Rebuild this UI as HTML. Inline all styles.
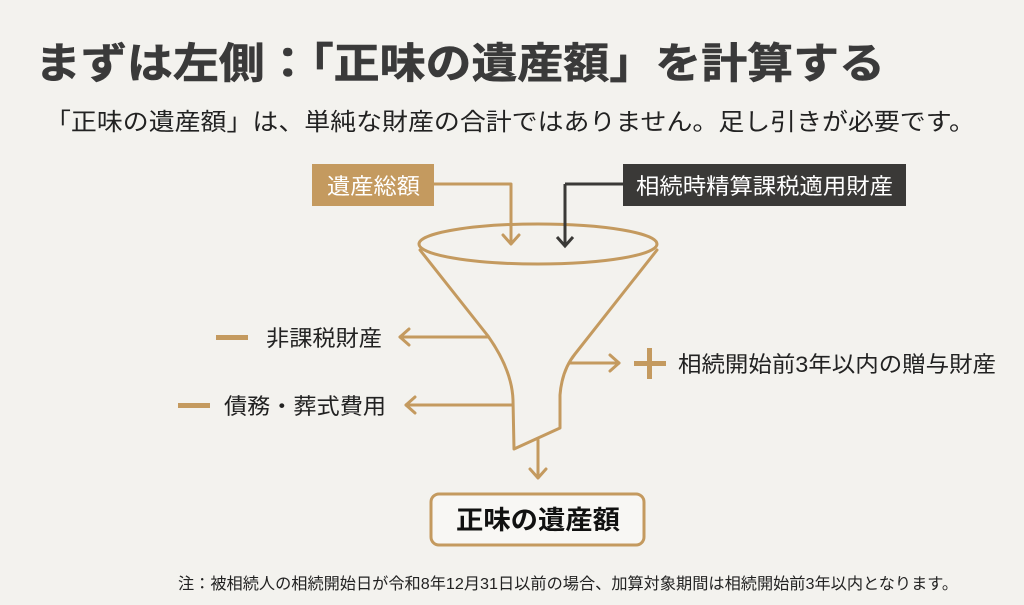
<!DOCTYPE html>
<html><head><meta charset="utf-8"><style>
html,body{margin:0;padding:0;background:#f3f2ee;}
svg{display:block;}
text{font-family:"Liberation Sans","Noto Sans CJK JP",sans-serif;}
</style></head><body>
<svg width="1024" height="605" viewBox="0 0 1024 605" xmlns="http://www.w3.org/2000/svg">
<rect width="1024" height="605" fill="#f3f2ee"/>
<text x="35" y="78" font-size="42" font-weight="bold" fill="#3a3a3a" stroke="#3a3a3a" stroke-width="0.6" textLength="850" lengthAdjust="spacingAndGlyphs">まずは左側：「正味の遺産額」を計算する</text>
<text x="45" y="130" font-size="24" fill="#222" textLength="930" lengthAdjust="spacingAndGlyphs">「正味の遺産額」は、単純な財産の合計ではありません。足し引きが必要です。</text>

<rect x="312" y="164" width="122" height="42" fill="#c49a5f"/>
<text x="327" y="194" font-size="22" fill="#fff" textLength="93" lengthAdjust="spacingAndGlyphs">遺産総額</text>
<rect x="623" y="164" width="283" height="42" fill="#3a3937"/>
<text x="636" y="194" font-size="22" fill="#fff" textLength="257" lengthAdjust="spacingAndGlyphs">相続時精算課税適用財産</text>

<g fill="none" stroke="#c49a5f" stroke-width="3" stroke-linecap="round" stroke-linejoin="round">
<polyline points="434,184 511,184 511,243"/>
<polyline points="503,235 511,244 519,235"/>
<ellipse cx="538" cy="244" rx="119" ry="20"/>
<path d="M420,250 L488,336 Q512,370 513,400 L514,449 L560,428 L560,395 Q562,370 575,354 L657,250"/>
<polyline points="488,337 400,337"/><polyline points="409,329 400,337 409,345"/>
<polyline points="513,405 406,405"/><polyline points="415,397 406,405 415,413"/>
<polyline points="570,363 619,363"/><polyline points="610,355 619,363 610,371"/>
<polyline points="538,440 538,477"/><polyline points="530,469 538,478 546,469"/>
</g>
<polyline points="565,184 623,184" fill="none" stroke="#3a3937" stroke-width="3"/>
<polyline points="565,184 565,245" fill="none" stroke="#3a3937" stroke-width="3"/>
<polyline points="557,237 565,246 573,237" fill="none" stroke="#3a3937" stroke-width="3"/>

<rect x="216" y="335" width="32" height="5" fill="#c49a5f"/>
<text x="266" y="346" font-size="22" fill="#222" textLength="116" lengthAdjust="spacingAndGlyphs">非課税財産</text>
<rect x="178" y="403" width="32" height="5" fill="#c49a5f"/>
<text x="224" y="414" font-size="22" fill="#222" textLength="162" lengthAdjust="spacingAndGlyphs">債務・葬式費用</text>
<rect x="634" y="361" width="32" height="5" fill="#c49a5f"/>
<rect x="647" y="348" width="5" height="31" fill="#c49a5f"/>
<text x="678" y="372" font-size="22" fill="#222" textLength="318" lengthAdjust="spacingAndGlyphs">相続開始前3年以内の贈与財産</text>

<rect x="431" y="494" width="213" height="51" rx="8" fill="#f8f7f4" stroke="#c49a5f" stroke-width="3"/>
<text x="456" y="529" font-size="26" font-weight="bold" fill="#111" textLength="164" lengthAdjust="spacingAndGlyphs">正味の遺産額</text>

<text x="178" y="589" font-size="16" fill="#222" textLength="780" lengthAdjust="spacingAndGlyphs">注：被相続人の相続開始日が令和8年12月31日以前の場合、加算対象期間は相続開始前3年以内となります。</text>
</svg>
</body></html>
